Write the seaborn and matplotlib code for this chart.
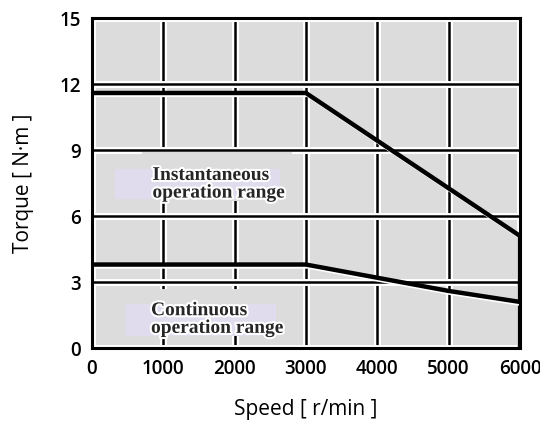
import numpy as np
import pandas as pd
import seaborn as sns
import matplotlib.pyplot as plt
import matplotlib.patheffects as pe
from matplotlib.patches import Rectangle

# Torque-speed curve values
inst_speed = [0, 3000, 6000, 6000]
inst_torque = [11.6, 11.6, 5.1, 0]
cont_speed = [0, 3000, 4000, 5000, 6000]
cont_torque = [3.8, 3.8, 3.2, 2.6, 2.1]
x_ticks = [0, 1000, 2000, 3000, 4000, 5000, 6000]
y_ticks = [0, 3, 6, 9, 12, 15]

sns.set_style('white')
plt.rcParams['font.family'] = ['Open Sans', 'DejaVu Sans']

fig = plt.figure(figsize=(5.4, 4.23), dpi=100)
ax = fig.add_axes([0.170, 0.177, 0.793, 0.780])
ax.set_facecolor('#dcdcdc')
ax.set_axisbelow(True)

ax.set_xlim(0, 6000)
ax.set_ylim(0, 15)
ax.set_xticks(x_ticks)
ax.set_yticks(y_ticks)
ax.grid(True, color='black', lw=1.8,
        path_effects=[pe.Stroke(linewidth=5, foreground='white'), pe.Normal()])
ax.tick_params(length=0, labelsize=13.5, pad=8, labelcolor='black')
for lab in ax.get_xticklabels() + ax.get_yticklabels():
    lab.set_fontweight('semibold')

for s in ax.spines.values():
    s.set_color('black')
    s.set_linewidth(2.2)
    s.set_zorder(5)

# gaps in the grid behind the labels
for (x0, y0, w, h) in [(700, 6.7, 2100, 2.2), (700, 0.7, 2100, 2.0)]:
    ax.add_patch(Rectangle((x0, y0), w, h, facecolor='#dcdcdc', edgecolor='none', zorder=1.5))
for (x0, y0, w, h) in [(322, 6.77, 2314, 1.37), (460, 0.55, 2120, 1.45)]:
    ax.add_patch(Rectangle((x0, y0), w, h, facecolor='#e0dcee', edgecolor='none', zorder=1.6))

curve_fx = [pe.SimpleLineShadow(offset=(1.2, -2.0), shadow_color='white', alpha=1, linewidth=2),
            pe.Normal()]
df_inst = pd.DataFrame({'speed': inst_speed, 'torque': inst_torque})
df_cont = pd.DataFrame({'speed': cont_speed, 'torque': cont_torque})
sns.lineplot(data=df_inst, x='speed', y='torque', sort=False, estimator=None,
             color='black', lw=3.2, ax=ax, zorder=4, path_effects=curve_fx)
sns.lineplot(data=df_cont, x='speed', y='torque', sort=False, estimator=None,
             color='black', lw=3.2, ax=ax, zorder=4, path_effects=curve_fx)

glow = [pe.withStroke(linewidth=3, foreground='white')]
ax.text(850, 7.45, 'Instantaneous\noperation range', family='Liberation Serif',
        fontweight='bold', fontsize=14, va='center', ha='left', linespacing=1.05,
        zorder=3, path_effects=glow)
ax.text(830, 1.3, 'Continuous\noperation range', family='Liberation Serif',
        fontweight='bold', fontsize=14, va='center', ha='left', linespacing=1.05,
        zorder=3, path_effects=glow)

ax.set_xlabel('Speed [ r/min ]', fontsize=15, labelpad=14, fontweight='medium', color='black')
ax.set_ylabel('Torque [ N·m ]', fontsize=15, labelpad=18, fontweight='medium', color='black')

fig.savefig('out.png', dpi=100)
